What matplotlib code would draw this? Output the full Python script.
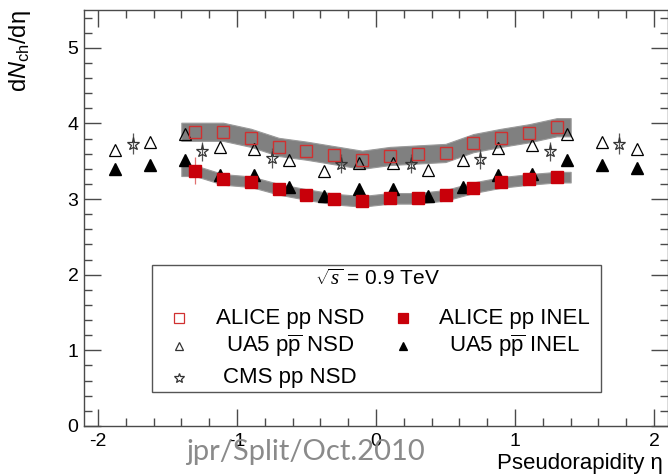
import numpy as np
import matplotlib
matplotlib.use("Agg")
import matplotlib.pyplot as plt
from matplotlib.patches import Rectangle
from matplotlib.ticker import MultipleLocator

plt.rcParams['font.family'] = ['Liberation Sans', 'DejaVu Sans']
plt.rcParams['mathtext.fontset'] = 'custom'
plt.rcParams['mathtext.rm'] = 'Liberation Sans'
plt.rcParams['mathtext.it'] = 'Liberation Serif:italic'
plt.rcParams['mathtext.sf'] = 'Liberation Sans:italic'
plt.rcParams['axes.unicode_minus'] = False

# ALICE pp, 0.9 TeV
alice_eta = [-1.3, -1.1, -0.9, -0.7, -0.5, -0.3, -0.1, 0.1, 0.3, 0.5, 0.7, 0.9, 1.1, 1.3]
alice_nsd = [3.89, 3.89, 3.81, 3.69, 3.64, 3.58, 3.52, 3.57, 3.59, 3.61, 3.74, 3.81, 3.87, 3.95]
alice_inel = [3.375, 3.26, 3.23, 3.13, 3.06, 3.00, 2.97, 3.01, 3.01, 3.05, 3.15, 3.22, 3.26, 3.29]
alice_inel_err = [0.18, 0.02, 0.02, 0.02, 0.02, 0.02, 0.02, 0.02, 0.02, 0.02, 0.02, 0.02, 0.02, 0.02]
alice_nsd_sys = 0.12
alice_inel_sys = 0.07
alice_bin_half = 0.1

# UA5 ppbar
ua5_eta = [-1.875, -1.625, -1.375, -1.125, -0.875, -0.625, -0.375, -0.125,
           0.125, 0.375, 0.625, 0.875, 1.125, 1.375, 1.625, 1.875]
ua5_nsd = [3.65, 3.75, 3.86, 3.69, 3.66, 3.515, 3.375, 3.48,
           3.48, 3.38, 3.515, 3.68, 3.71, 3.86, 3.76, 3.66]
ua5_inel = [3.40, 3.445, 3.515, 3.32, 3.32, 3.16, 3.04, 3.135,
            3.14, 3.04, 3.16, 3.32, 3.33, 3.52, 3.45, 3.41]

# CMS pp NSD
cms_eta = [-1.75, -1.25, -0.75, -0.25, 0.25, 0.75, 1.25, 1.75]
cms_nsd = [3.73, 3.63, 3.54, 3.47, 3.47, 3.53, 3.63, 3.73]
cms_err = [0.14, 0.13, 0.13, 0.13, 0.13, 0.13, 0.13, 0.14]

red = '#c8000a'
axcol = '#4a4a4a'

fig = plt.figure(figsize=(6.68, 4.75), dpi=100)
ax = fig.add_axes([84 / 668, 49 / 475, 584 / 668, 416 / 475])

# systematic bands
bx = np.r_[alice_eta[0] - alice_bin_half, alice_eta, alice_eta[-1] + alice_bin_half]
for vals, sys in [(alice_nsd, alice_nsd_sys), (alice_inel, alice_inel_sys)]:
    v = np.r_[vals[0], vals, vals[-1]]
    ax.fill_between(bx, v - sys, v + sys, color='#808080', lw=0.8,
                    edgecolor='#9a9a9a', zorder=1)

ax.plot(ua5_eta, ua5_nsd, ls='none', marker='^', ms=8.5, mfc='none',
        mec='black', mew=0.9, zorder=3)
ax.plot(ua5_eta, ua5_inel, ls='none', marker='^', ms=8, mfc='black',
        mec='black', zorder=3)
ax.errorbar(cms_eta, cms_nsd, yerr=cms_err, fmt='*', ms=9.5, mfc='none',
            mec='#333333', mew=0.9, ecolor='#555555', elinewidth=0.9,
            capsize=0, zorder=3)
ax.plot(alice_eta, alice_nsd, ls='none', marker='s', ms=8.5, mfc='none',
        mec='#d03030', mew=1.0, zorder=4)
ax.errorbar(alice_eta, alice_inel, yerr=alice_inel_err, fmt='s', ms=8,
            mfc=red, mec=red, ecolor='#e07070', elinewidth=0.9,
            capsize=0, zorder=4)

ax.set_xlim(-2.1, 2.1)
ax.set_ylim(0, 5.5)
ax.xaxis.set_major_locator(MultipleLocator(1))
ax.xaxis.set_minor_locator(MultipleLocator(0.2))
ax.yaxis.set_major_locator(MultipleLocator(1))
ax.yaxis.set_minor_locator(MultipleLocator(0.2))
ax.tick_params(which='both', direction='in', top=True, right=True,
               color=axcol, width=1.0, labelsize=14)
ax.tick_params(which='major', length=12)
ax.tick_params(which='minor', length=6)
ax.tick_params(axis='x', pad=5)
ax.tick_params(axis='y', pad=4)
for s in ax.spines.values():
    s.set_color(axcol)
    s.set_linewidth(1.0)

ax.set_ylabel(r'd$\mathsf{N}_{\rm ch}$/dη', fontsize=17, loc='top')
ax.yaxis.set_label_coords(-0.087, 1.0)
fig.text(497 / 668, 1 - 463 / 475, 'Pseudorapidity η', fontsize=16,
         ha='left', va='center')

# legend box drawn ROOT style
ax.add_patch(Rectangle((0.1156, 0.0825), 0.7697, 0.3045, transform=ax.transAxes,
                       fill=True, facecolor='white', edgecolor='#555555',
                       lw=1.0, zorder=5))
ax.text(0.503, 0.353, r'$\sqrt{s}$ = 0.9 TeV', transform=ax.transAxes,
        ha='center', va='center', fontsize=15, zorder=6)
legend_rows = [0.2596, 0.1923, 0.1154]
entries = [
    (0, 0, 'ALICE pp NSD', dict(marker='s', mfc='none', mec='#d03030', ms=7.5)),
    (1, 0, 'ALICE pp INEL', dict(marker='s', mfc=red, mec=red, ms=7)),
    (0, 1, r'UA5 p$\overline{\rm p}$ NSD', dict(marker='^', mfc='none', mec='#333333', ms=6)),
    (1, 1, r'UA5 p$\overline{\rm p}$ INEL', dict(marker='^', mfc='black', mec='black', ms=6)),
    (0, 2, 'CMS pp NSD', dict(marker='*', mfc='none', mec='#333333', ms=7)),
]
col_marker = [0.1627, 0.5457]
col_text = [0.3527, 0.737]
for col, row, label, style in entries:
    ax.plot([col_marker[col]], [legend_rows[row]], transform=ax.transAxes,
            ls='none', mew=0.9, zorder=6, clip_on=False, **style)
    ax.text(col_text[col], legend_rows[row], label, transform=ax.transAxes,
            ha='center', va='center', fontsize=16, zorder=6)

fig.text(186 / 668, 1 - 452 / 475, 'jpr/Split/Oct.2010', fontsize=21,
         family='Lato', color='#8a8a8a', ha='left', va='center')

fig.savefig('out.png', dpi=100)
